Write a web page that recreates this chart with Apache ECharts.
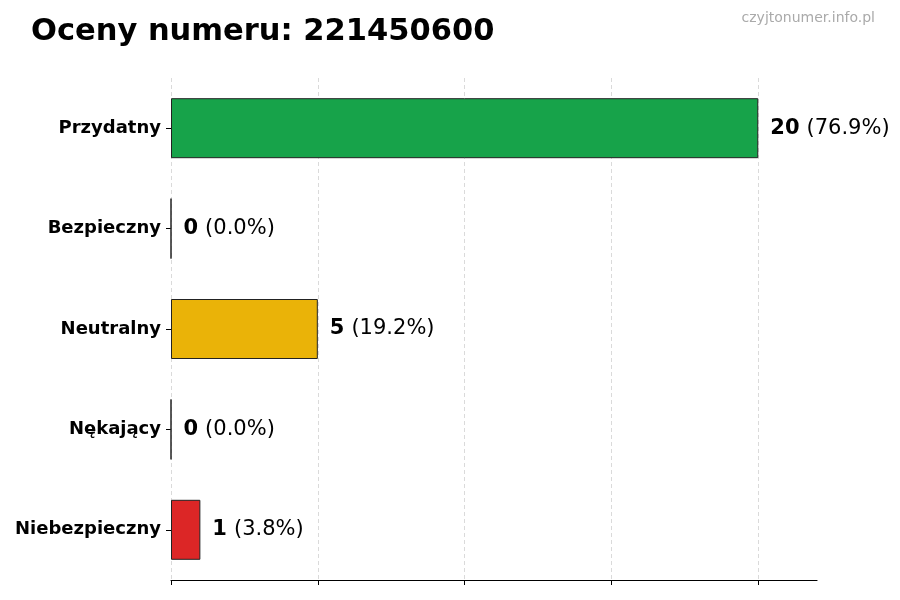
<!DOCTYPE html>
<html><head><meta charset="utf-8">
<script src="https://cdn.jsdelivr.net/npm/echarts@6/dist/echarts.min.js"></script>
<style>html,body{margin:0;padding:0;background:#fff}#c{width:900px;height:600px}</style>
</head><body><div id="c"></div>
<script>
const categories = ['Przydatny','Bezpieczny','Neutralny','Nękający','Niebezpieczny'];
const counts = [20, 0, 5, 0, 1];
const percents = ['76.9%','0.0%','19.2%','0.0%','3.8%'];
const colors = ['#17a34a','#17a34a','#eab308','#dc2626','#dc2626'];
const xTicks = [0, 5, 10, 15, 20];
const titleText = 'Oceny numeru: 221450600';
const watermark = 'czyjtonumer.info.pl';

const chart = echarts.init(document.getElementById('c'), null, {renderer:'canvas'});
const font = 'DejaVu Sans';
chart.setOption({
  backgroundColor:'#fff',
  animation:false,
  title:[
    {text:titleText,left:31,top:17,padding:0,textStyle:{fontFamily:font,fontSize:30.5,fontWeight:'bold',color:'#000'}},
    {text:watermark,right:25,top:11,padding:0,textStyle:{fontFamily:font,fontSize:14,fontWeight:'normal',color:'#aaaaaa'}}
  ],
  grid:{left:171,right:83,top:78,bottom:20,containLabel:false},
  xAxis:{type:'value',min:0,max:22,interval:5,
    axisLine:{show:true,lineStyle:{color:'#000',width:1.2}},
    axisTick:{show:true,length:5,customValues:xTicks,lineStyle:{color:'#000'}},
    axisLabel:{show:false},
    splitLine:{show:false}},
  yAxis:{type:'category',data:categories,inverse:true,
    axisLine:{show:false},
    axisTick:{show:true,length:5,alignWithLabel:true,lineStyle:{color:'#000'}},
    axisLabel:{fontFamily:font,fontSize:18,fontWeight:'bold',color:'#000',margin:10}},
  series:[{type:'bar',barWidth:60,z:3,
    data:counts.map((v,i)=>({value:v,itemStyle:{color:colors[i]}})),
    itemStyle:{borderColor:'#222',borderWidth:1},
    label:{show:true,position:'right',distance:12,
      formatter:p=>'{b|'+counts[p.dataIndex]+'}{n|('+percents[p.dataIndex]+')}',
      rich:{b:{fontFamily:font,fontSize:21,fontWeight:'bold',color:'#000'},
            n:{fontFamily:font,fontSize:21,color:'#000',padding:[0,0,0,7]}}},
    markLine:{silent:true,symbol:'none',label:{show:false},z:1,
      lineStyle:{type:[4,3],color:'#d0d0d0',width:0.8},
      data:xTicks.map(t=>({xAxis:t}))}
  }]
});
</script></body></html>
